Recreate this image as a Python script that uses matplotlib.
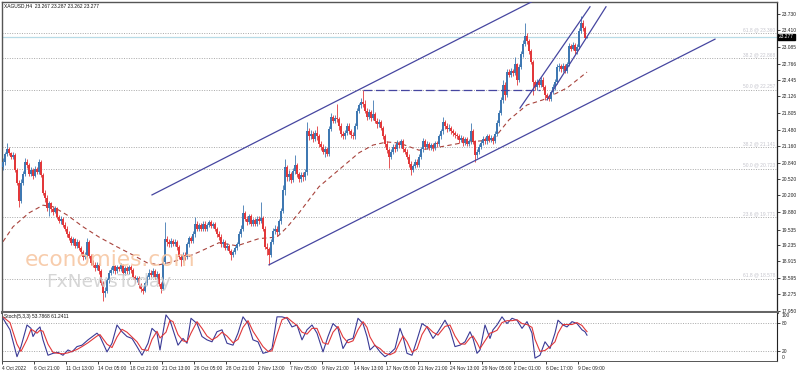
import matplotlib
matplotlib.use('Agg')
import matplotlib.pyplot as plt
import numpy as np

plt.rcParams['font.family'] = ['Liberation Sans', 'DejaVu Sans']

# XAGUSD H4 closes / highs / lows (one value per bar)
first_open = 20.75
closes = [
    20.85, 21.00, 21.10, 21.02, 20.95, 20.98, 20.70, 20.45, 20.10, 20.45,
    20.62, 20.85, 20.80, 20.62, 20.70, 20.58, 20.72, 20.66, 20.85, 20.60,
    20.25, 20.15, 19.95, 20.05, 19.93, 19.88, 19.95, 19.78, 19.70, 19.75,
    19.62, 19.55, 19.45, 19.38, 19.28, 19.35, 19.22, 19.30, 19.18, 19.10,
    19.00, 19.05, 19.30, 19.02, 18.88, 18.85, 18.78, 18.85, 18.72, 18.50,
    18.30, 18.35, 18.55, 18.70, 18.75, 18.82, 18.72, 18.80, 18.76, 18.84,
    18.70, 18.78, 18.72, 18.80, 18.74, 18.62, 18.55, 18.60, 18.45, 18.38,
    18.35, 18.50, 18.62, 18.70, 18.66, 18.72, 18.62, 18.68, 18.48, 18.38,
    18.90, 19.35, 19.30, 19.25, 19.32, 19.26, 19.30, 19.20, 19.00, 18.95,
    19.05, 19.00, 19.25, 19.38, 19.32, 19.45, 19.65, 19.55, 19.62, 19.55,
    19.65, 19.55, 19.62, 19.68, 19.60, 19.64, 19.55, 19.45, 19.40, 19.25,
    19.30, 19.18, 19.22, 19.12, 19.05, 19.10, 19.18, 19.25, 19.45, 19.55,
    19.85, 19.75, 19.68, 19.80, 19.65, 19.72, 19.64, 19.75, 19.70, 19.76,
    19.55, 19.20, 19.15, 19.05, 19.30, 19.50, 19.55, 19.48, 19.70, 19.90,
    20.30, 20.75, 20.55, 20.62, 20.50, 20.68, 20.80, 20.62, 20.52, 20.60,
    20.55, 20.65, 21.45, 21.35, 21.40, 21.30, 21.42, 21.35, 21.20, 21.15,
    21.05, 21.10, 21.00, 21.50, 21.72, 21.65, 21.70, 21.68, 21.55, 21.40,
    21.35, 21.42, 21.55, 21.45, 21.38, 21.35, 21.55, 21.85, 21.95, 22.02,
    21.98, 21.85, 21.72, 21.82, 21.70, 21.78, 21.65, 21.58, 21.62, 21.52,
    21.35, 21.20, 21.08, 20.95, 21.05, 21.15, 21.10, 21.22, 21.18, 21.25,
    21.10, 21.05, 20.95, 20.82, 20.70, 20.78, 20.85, 20.80, 20.95, 21.10,
    21.25, 21.15, 21.20, 21.12, 21.18, 21.12, 21.22, 21.20, 21.35, 21.45,
    21.62, 21.55, 21.50, 21.52, 21.45, 21.42, 21.38, 21.35, 21.28, 21.32,
    21.22, 21.30, 21.20, 21.25, 21.45, 21.25, 20.98, 21.05, 21.15, 21.22,
    21.30, 21.25, 21.35, 21.28, 21.32, 21.25, 21.40, 21.60, 21.80, 22.05,
    22.35, 22.15, 22.60, 22.55, 22.62, 22.58, 22.75, 22.45, 22.70, 22.95,
    23.15, 23.30, 23.20, 23.00, 22.80, 22.40, 22.30, 22.40, 22.35, 22.45,
    22.30, 22.15, 22.10, 22.08, 22.22, 22.30, 22.40, 22.70, 22.72, 22.65,
    22.72, 22.62, 22.75, 23.10, 23.05, 23.12, 23.00, 23.08, 23.40, 23.55,
    23.45, 23.267, 23.277,
]
highs = [
    20.92, 21.05, 21.22, 21.14, 21.05, 21.04, 21.02, 20.74, 20.50, 20.52,
    20.68, 20.93, 20.90, 20.84, 20.76, 20.74, 20.78, 20.76, 20.90, 20.88,
    20.64, 20.30, 20.20, 20.10, 20.08, 19.98, 20.00, 19.98, 19.82, 19.80,
    19.78, 19.68, 19.60, 19.50, 19.42, 19.40, 19.38, 19.36, 19.33, 19.22,
    19.14, 19.10, 19.38, 19.34, 19.06, 18.94, 18.90, 18.90, 18.88, 18.76,
    18.54, 18.42, 18.60, 18.74, 18.80, 18.86, 18.85, 18.84, 18.83, 18.88,
    18.86, 18.82, 18.82, 18.84, 18.84, 18.78, 18.66, 18.64, 18.63, 18.50,
    18.42, 18.54, 18.66, 18.76, 18.74, 18.78, 18.76, 18.72, 18.70, 18.52,
    19.00, 19.68, 19.42, 19.36, 19.38, 19.36, 19.35, 19.34, 19.24, 19.06,
    19.10, 19.10, 19.30, 19.42, 19.42, 19.50, 19.78, 19.70, 19.66, 19.66,
    19.70, 19.70, 19.66, 19.72, 19.72, 19.68, 19.68, 19.58, 19.50, 19.44,
    19.35, 19.34, 19.28, 19.26, 19.16, 19.14, 19.22, 19.30, 19.50, 19.62,
    20.01, 19.90, 19.80, 19.84, 19.84, 19.76, 19.76, 19.80, 19.80, 20.07,
    19.80, 19.60, 19.28, 19.20, 19.35, 19.56, 19.62, 19.60, 19.74, 19.96,
    20.40, 20.90, 20.80, 20.70, 20.66, 20.74, 20.98, 20.84, 20.66, 20.66,
    20.66, 20.72, 21.63, 21.52, 21.48, 21.46, 21.48, 21.55, 21.40, 21.26,
    21.20, 21.16, 21.14, 21.56, 21.80, 21.76, 21.76, 21.98, 21.72, 21.60,
    21.46, 21.48, 21.60, 21.60, 21.50, 21.44, 21.60, 21.90, 22.00, 22.10,
    22.25, 22.05, 21.90, 21.88, 21.86, 22.06, 21.82, 21.70, 21.68, 21.66,
    21.56, 21.40, 21.25, 21.12, 21.10, 21.20, 21.20, 21.28, 21.26, 21.30,
    21.30, 21.15, 21.10, 21.00, 20.86, 20.82, 20.90, 20.90, 21.00, 21.15,
    21.32, 21.30, 21.26, 21.24, 21.22, 21.22, 21.26, 21.26, 21.40, 21.50,
    21.72, 21.66, 21.60, 21.58, 21.56, 21.50, 21.46, 21.42, 21.40, 21.38,
    21.36, 21.34, 21.34, 21.30, 21.61, 21.50, 21.28, 21.10, 21.20, 21.28,
    21.36, 21.34, 21.40, 21.40, 21.38, 21.36, 21.45, 21.66, 21.86, 22.12,
    22.45, 22.40, 22.66, 22.66, 22.68, 22.66, 22.90, 22.78, 22.76, 23.00,
    23.22, 23.55, 23.36, 23.24, 23.04, 22.84, 22.45, 22.46, 22.46, 22.50,
    22.50, 22.34, 22.20, 22.15, 22.26, 22.36, 22.46, 22.76, 22.78, 22.76,
    22.78, 22.76, 22.80, 23.16, 23.14, 23.18, 23.16, 23.14, 23.45, 23.70,
    23.62, 23.50, 23.287,
]
lows = [
    20.70, 20.80, 20.96, 20.98, 20.90, 20.90, 20.66, 20.40, 19.97, 20.05,
    20.40, 20.58, 20.74, 20.58, 20.58, 20.52, 20.55, 20.62, 20.62, 20.56,
    20.20, 20.08, 19.90, 19.80, 19.88, 19.82, 19.85, 19.74, 19.66, 19.65,
    19.58, 19.50, 19.40, 19.33, 19.24, 19.24, 19.18, 19.18, 19.14, 19.05,
    18.95, 18.96, 19.00, 18.98, 18.84, 18.80, 18.72, 18.74, 18.68, 18.45,
    18.15, 18.22, 18.30, 18.50, 18.66, 18.70, 18.68, 18.70, 18.72, 18.72,
    18.66, 18.66, 18.68, 18.68, 18.70, 18.58, 18.50, 18.52, 18.40, 18.33,
    18.28, 18.32, 18.46, 18.58, 18.62, 18.62, 18.58, 18.58, 18.44, 18.30,
    18.36, 18.86, 19.22, 19.20, 19.20, 19.22, 19.22, 19.14, 18.96, 18.82,
    18.90, 18.95, 18.96, 19.20, 19.28, 19.28, 19.40, 19.50, 19.50, 19.50,
    19.50, 19.50, 19.50, 19.58, 19.56, 19.56, 19.50, 19.40, 19.34, 19.20,
    19.20, 19.14, 19.14, 19.08, 18.95, 19.00, 19.06, 19.14, 19.22, 19.40,
    19.50, 19.70, 19.62, 19.64, 19.60, 19.60, 19.60, 19.60, 19.64, 19.66,
    19.50, 19.15, 19.05, 18.85, 19.00, 19.25, 19.44, 19.42, 19.44, 19.65,
    19.85, 20.20, 20.48, 20.48, 20.44, 20.46, 20.62, 20.56, 20.46, 20.46,
    20.48, 20.50, 20.60, 21.28, 21.30, 21.24, 21.26, 21.28, 21.14, 21.08,
    21.00, 20.95, 20.96, 20.96, 21.45, 21.60, 21.60, 21.62, 21.48, 21.34,
    21.30, 21.30, 21.38, 21.40, 21.32, 21.30, 21.30, 21.50, 21.80, 21.90,
    21.92, 21.80, 21.66, 21.68, 21.64, 21.66, 21.60, 21.52, 21.54, 21.48,
    21.30, 21.15, 21.02, 20.73, 20.90, 21.00, 21.05, 21.06, 21.12, 21.12,
    21.05, 21.00, 20.90, 20.76, 20.60, 20.65, 20.74, 20.76, 20.76, 20.90,
    21.05, 21.10, 21.10, 21.08, 21.08, 21.06, 21.08, 21.14, 21.16, 21.30,
    21.40, 21.50, 21.44, 21.46, 21.40, 21.36, 21.32, 21.30, 21.22, 21.24,
    21.16, 21.18, 21.16, 21.16, 21.20, 21.20, 20.85, 20.92, 21.00, 21.10,
    21.18, 21.20, 21.20, 21.24, 21.24, 21.20, 21.22, 21.36, 21.55, 21.76,
    22.00, 22.06, 22.12, 22.50, 22.50, 22.52, 22.54, 22.35, 22.40, 22.65,
    22.90, 23.10, 23.14, 22.96, 22.76, 22.15, 22.25, 22.26, 22.30, 22.30,
    22.25, 22.06, 22.06, 22.04, 22.04, 22.18, 22.26, 22.36, 22.62, 22.60,
    22.60, 22.58, 22.58, 22.72, 23.00, 23.02, 22.96, 22.96, 23.04, 23.36,
    23.40, 23.25, 23.262,
]

# dashed moving average (bar, price)
ma_bar = [0, 5, 13, 20, 25, 32, 40, 48, 57, 65, 72, 78, 85, 92, 98, 108, 117, 128,
          137, 142, 148, 158, 168, 178, 185, 192, 198, 208, 218, 232, 245, 253, 262,
          270, 282, 292]
ma_val = [19.30, 19.59, 19.86, 20.01, 19.98, 19.82, 19.59, 19.39, 19.20, 19.04, 18.89,
          18.85, 18.91, 19.00, 19.10, 19.28, 19.22, 19.36, 19.39, 19.58, 19.86, 20.37,
          20.70, 21.03, 21.18, 21.24, 21.22, 21.08, 21.14, 21.24, 21.28, 21.67, 21.96,
          22.06, 22.29, 22.60]

# stochastic (5,3,3)
st_bar = [0, 3.5, 7, 9, 12, 14, 15, 17, 18.5, 20, 22.5, 25, 27.5, 30, 32.5, 34.5, 37,
          39.5, 42.5, 47, 48.5, 52, 54.5, 57, 59.5, 62, 64.5, 67, 69.5, 72.5, 74.5, 77,
          78.5, 81.5, 83.5, 85, 87.5, 90, 92, 94, 97, 99.5, 102, 104.5, 107, 109.5, 112,
          115, 117.5, 120, 122.5, 125, 127.5, 130, 132.5, 134.5, 137, 139.5, 142, 144.5,
          147, 149.5, 152, 154.5, 157, 160, 162.5, 165, 167.5, 170, 172.5, 175, 177.5,
          180, 182, 183.5, 186, 188.5, 191, 193.5, 196, 198.5, 200, 202, 204.5, 207,
          209.5, 212, 215, 217.5, 221, 223.5, 226, 228.5, 231, 233.5, 235, 237, 238.5,
          241, 243.5, 245, 247, 249.5, 252, 254.5, 257, 259.5, 262, 264.5, 266, 268.5,
          271, 273.5, 276, 277.5, 280, 282, 284.5, 287, 289.5, 291, 292]
st_k = [89, 65, 9, 30, 75, 68, 51, 65, 71, 44, 12, 16, 18, 12, 23, 19, 30, 33, 44, 58,
        51, 19, 37, 75, 61, 51, 47, 30, 12, 37, 68, 58, 23, 96, 85, 65, 33, 47, 37, 89,
        78, 51, 44, 40, 61, 65, 37, 33, 58, 92, 78, 44, 40, 16, 19, 26, 92, 92, 89, 71,
        75, 44, 65, 75, 58, 19, 51, 78, 68, 26, 44, 47, 89, 78, 51, 23, 33, 19, 9, 16,
        26, 68, 51, 16, 12, 44, 78, 71, 47, 61, 85, 65, 30, 33, 40, 61, 47, 16, 23, 75,
        47, 65, 75, 92, 78, 89, 85, 68, 82, 58, 6, 12, 40, 26, 58, 85, 75, 71, 82, 78,
        65, 61, 53.79]
st_d = [92, 80, 35, 20, 45, 66, 64, 58, 64, 62, 35, 18, 16, 15, 17, 20, 24, 30, 38, 52,
        55, 35, 28, 50, 66, 60, 50, 40, 24, 22, 45, 62, 48, 60, 85, 82, 55, 42, 40, 58,
        82, 68, 52, 44, 50, 60, 52, 38, 45, 70, 84, 62, 46, 30, 20, 21, 55, 86, 91, 82,
        74, 60, 56, 68, 68, 38, 35, 60, 72, 50, 38, 42, 65, 82, 70, 50, 32, 26, 16, 13,
        18, 40, 52, 40, 18, 25, 55, 72, 60, 54, 72, 75, 52, 36, 35, 48, 52, 38, 26, 42,
        58, 60, 64, 80, 84, 84, 86, 78, 76, 70, 45, 20, 22, 30, 40, 58, 76, 76, 76, 80,
        74, 66, 61.24]

# trend lines drawn on the chart (bar, price)
upper_ch = ([74.5, 265], [20.21, 23.98])
lower_ch = ([133, 356], [18.85, 23.24])
wedge_hi = ([258.5, 293.5], [21.90, 23.87])
wedge_lo = ([272, 301.5], [22.06, 23.87])
resist = ([180, 268.5], [22.25, 22.25])

fib_levels = [23.36, 22.868, 22.257, 21.141, 20.723, 19.771, 18.578]
fib_labels = ['61.8 @ 23.360', '38.2 @ 22.868', '50.0 @ 22.257', '38.2 @ 21.141',
              '50.0 @ 20.723', '23.6 @ 19.771', '61.8 @ 18.578']

price_ticks = [23.730, 23.410, 23.085, 22.766, 22.445, 22.126, 21.805, 21.480, 21.160,
               20.840, 20.520, 20.200, 19.880, 19.535, 19.235, 18.915, 18.595, 18.275,
               17.950]
price_labels = ['23.730', '23.410', '23.085', '22.766', '22.445', '22.126', '21.805',
                '21.480', '21.160', '20.840', '20.520', '20.200', '19.880', '19.535',
                '19.235', '18.915', '18.595', '18.275', '17.950']
date_labels = ['4 Oct 2022', '6 Oct 21:00', '11 Oct 13:00', '14 Oct 05:00', '18 Oct 21:00',
               '21 Oct 13:00', '26 Oct 05:00', '28 Oct 21:00', '2 Nov 13:00', '7 Nov 05:00',
               '9 Nov 21:00', '14 Nov 13:00', '17 Nov 05:00', '21 Nov 21:00', '24 Nov 13:00',
               '29 Nov 05:00', '2 Dec 01:00', '6 Dec 17:00', '9 Dec 09:00']
last_price = 23.277

W, H = 798, 372
fig = plt.figure(figsize=(W / 100, H / 100), dpi=100)
ax = fig.add_axes([2 / W, 1 - 312 / H, 775 / W, 310 / H])
ax2 = fig.add_axes([2 / W, 1 - 361 / H, 775 / W, 48 / H])

fs = 3.5
c = np.array(closes)
o = np.r_[first_open, c[:-1]]
hi = np.array(highs)
lo = np.array(lows)
idx = np.arange(len(c))
up = c >= o
cols = np.where(up, '#3f78b2', '#e2383a')

# fib levels + labels
for lev, lab in zip(fib_levels, fib_labels):
    ax.axhline(lev, color='#a8a8a8', lw=0.7, ls=(0, (1, 1.5)), zorder=1)
    ax.text(386, lev + 0.02, lab, ha='right', va='bottom', fontsize=fs, color='#c4c4cc', zorder=1)

ax.axhline(last_price, color='#b8dbe6', lw=0.9, zorder=1)

# candles
ax.vlines(idx, lo, hi, colors=cols, lw=0.6, zorder=3)
ax.bar(idx, np.maximum(np.abs(c - o), 0.015), bottom=np.minimum(o, c), width=0.8,
       color=cols, linewidth=0, zorder=3)

ax.plot(ma_bar, ma_val, color='#a8433c', lw=0.8, ls=(0, (4, 3)), zorder=2)

ch_col = '#4646a0'
for xs, ys in (upper_ch, lower_ch, wedge_hi, wedge_lo):
    ax.plot(xs, ys, color=ch_col, lw=0.9, zorder=4)
ax.plot(resist[0], resist[1], color=ch_col, lw=0.9, ls=(0, (7, 3)), zorder=4)

# watermark
ax.text(53.5, 18.95, 'economies.com', fontsize=15.6, color='#f7c7a3', family='DejaVu Sans',
        ha='center', va='center', alpha=0.9, zorder=5)
ax.text(53, 18.52, 'FxNewsToday', fontsize=13.3, color='#cfcfcf', family='DejaVu Sans',
        ha='center', va='center', alpha=0.85, zorder=5)

ax.set_xlim(-0.5, 387)
ax.set_ylim(17.932, 23.963)
ax.yaxis.tick_right()
ax.set_yticks(price_ticks)
ax.set_yticklabels(price_labels)
ax.tick_params(axis='y', length=2, width=0.6, pad=1.5, labelsize=fs, colors='#222222')
ax.set_xticks([])
for s in ('left', 'top'):
    ax.spines[s].set_color('#555555')
    ax.spines[s].set_linewidth(1.0)
ax.spines['right'].set_color('#222222')
ax.spines['right'].set_linewidth(0.9)
ax.spines['bottom'].set_color('#666666')
ax.spines['bottom'].set_linewidth(2.2)

# current price box
fig.text(779 / W, 1 - 37 / H, '23.277', fontsize=fs, color='white', va='center', ha='left',
         bbox=dict(boxstyle='square,pad=0.2', fc='black', ec='black'))

fig.text(4 / W, 1 - 6 / H, 'XAGUSD,H4  23.267 23.287 23.262 23.277', fontsize=fs,
         color='#111111', va='center')

# stochastic panel
ax2.axhline(80, color='#a8a8a8', lw=0.7, ls=(0, (1, 1.5)))
ax2.axhline(20, color='#a8a8a8', lw=0.7, ls=(0, (1, 1.5)))
ax2.plot(st_bar, st_k, color='#3a3a96', lw=0.8)
ax2.plot(st_bar, st_d, color='#e0383a', lw=0.8)
ax2.set_xlim(-0.5, 387)
ax2.set_ylim(0, 100)
ax2.yaxis.tick_right()
ax2.set_yticks([80, 20])
ax2.set_yticklabels(['80', '20'])
ax2.tick_params(axis='y', length=2, width=0.6, pad=1.5, labelsize=fs, colors='#222222')
ax2.text(1.006, 0.94, '100', transform=ax2.transAxes, fontsize=fs, va='center', color='#222222')
ax2.text(1.006, 0.08, '0', transform=ax2.transAxes, fontsize=fs, va='center', color='#222222')
ax2.text(0.003, 0.93, 'Stoch(5,3,3) 53.7868 61.2411', transform=ax2.transAxes, fontsize=fs,
         va='center', color='#111111')
date_pos = [16 * k - 0.5 for k in range(len(date_labels))]
ax2.set_xticks(date_pos)
ax2.set_xticklabels(date_labels, ha='left')
ax2.tick_params(axis='x', length=2, width=0.6, pad=1.5, labelsize=fs, colors='#222222')
ax2.spines['left'].set_color('#555555')
ax2.spines['right'].set_color('#222222')
ax2.spines['top'].set_visible(False)
ax2.spines['bottom'].set_color('#555555')
ax2.spines['bottom'].set_linewidth(0.7)

fig.savefig('out.png', dpi=100, facecolor='white')
